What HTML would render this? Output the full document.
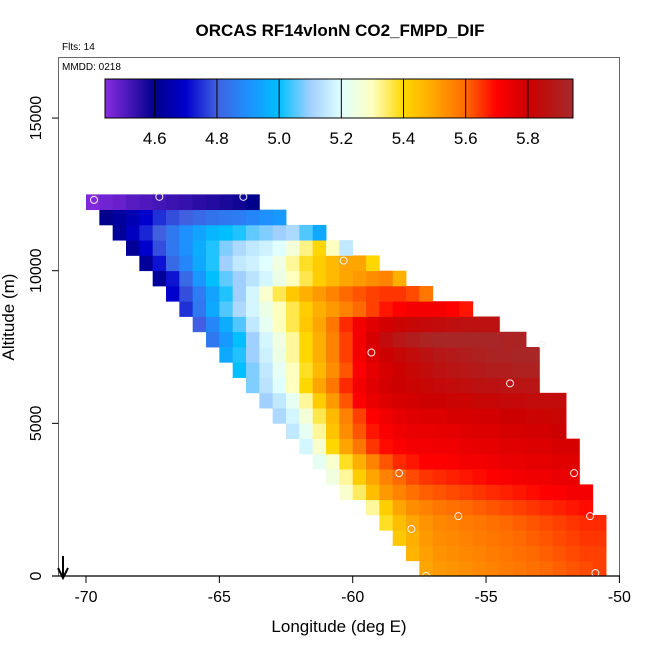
<!DOCTYPE html>
<html><head><meta charset="utf-8"><style>
html,body{margin:0;padding:0;background:#fff;}
svg{display:block;font-family:"Liberation Sans",Arial,sans-serif;}
</style></head><body>
<svg id="chart" width="650" height="650" viewBox="0 0 650 650">
<defs>
<linearGradient id="cbgrad" x1="0" x2="1" y1="0" y2="0"></linearGradient>
</defs>
<text x="340" y="36" text-anchor="middle" font-size="17" font-weight="bold">ORCAS RF14vlonN CO2_FMPD_DIF</text>
<text x="62" y="50" font-size="10">Flts: 14</text>
<g id="cells"></g>
<g id="pts"></g>
<rect x="58.5" y="57.5" width="561" height="518.5" fill="none" stroke="#666" stroke-width="1"/>
<text x="62" y="70" font-size="10">MMDD: 0218</text>
<g id="cbar"></g>
<g id="xaxis"></g>
<g id="yaxis"></g>
<text x="339" y="632" text-anchor="middle" font-size="17">Longitude (deg E)</text>
<text transform="translate(14,317) rotate(-90)" text-anchor="middle" font-size="17">Altitude (m)</text>
<g>
<line x1="63" y1="556" x2="63" y2="576" stroke="#000" stroke-width="2"/>
<path d="M58,568 L63,578 L68,568" fill="none" stroke="#000" stroke-width="2"/>
</g>
</svg>
<script>
// ---- data ----
const rowAltBase = [0,500,1000,1500,2000,2500,3000,3500,4000,4500,5000,5500,6000,6500,7000,7500,8000,8500,9000,9500,10000,10500,11000,11500,12000];
const rowLonStart = [-57.5,-58,-58.5,-59,-59.5,-60.5,-61,-61.5,-62,-62.5,-63,-63.5,-64,-64.5,-65,-65.5,-66,-66.5,-67,-67.5,-68,-68.5,-69,-69.5,-70];
const rowValues = [
[5.5,5.52,5.53,5.54,5.55,5.56,5.57,5.58,5.59,5.6,5.61,5.62,5.63,5.64],
[5.47,5.51,5.53,5.54,5.55,5.56,5.57,5.58,5.59,5.6,5.61,5.62,5.63,5.64,5.64],
[5.43,5.48,5.52,5.54,5.55,5.56,5.57,5.58,5.59,5.6,5.61,5.62,5.63,5.64,5.65,5.65],
[5.38,5.45,5.5,5.53,5.55,5.56,5.57,5.58,5.59,5.6,5.61,5.62,5.63,5.64,5.65,5.66,5.66],
[5.32,5.42,5.5,5.54,5.56,5.58,5.59,5.6,5.61,5.62,5.63,5.64,5.65,5.66,5.67,5.68,5.69],
[5.28,5.35,5.45,5.52,5.56,5.59,5.61,5.62,5.63,5.64,5.65,5.66,5.67,5.68,5.69,5.7,5.71,5.72,5.72],
[5.25,5.32,5.42,5.5,5.56,5.6,5.63,5.65,5.66,5.67,5.68,5.69,5.7,5.71,5.72,5.73,5.73,5.74,5.74],
[5.22,5.28,5.38,5.48,5.56,5.62,5.66,5.68,5.7,5.7,5.71,5.72,5.72,5.73,5.74,5.74,5.75,5.75,5.76,5.76],
[5.18,5.28,5.4,5.5,5.58,5.65,5.69,5.71,5.72,5.72,5.73,5.73,5.74,5.75,5.75,5.76,5.76,5.77,5.77,5.78,5.78],
[5.15,5.22,5.32,5.44,5.54,5.62,5.68,5.71,5.73,5.74,5.74,5.75,5.75,5.76,5.77,5.77,5.78,5.78,5.79,5.79,5.8],
[5.12,5.18,5.26,5.36,5.46,5.56,5.64,5.7,5.73,5.75,5.76,5.77,5.77,5.78,5.78,5.79,5.79,5.8,5.8,5.81,5.81,5.82],
[5.1,5.15,5.22,5.32,5.42,5.52,5.62,5.7,5.74,5.77,5.78,5.79,5.8,5.8,5.81,5.81,5.82,5.82,5.83,5.83,5.84,5.84,5.84],
[5.08,5.14,5.2,5.3,5.4,5.5,5.58,5.66,5.72,5.76,5.79,5.8,5.81,5.82,5.83,5.84,5.85,5.86,5.86,5.87,5.87,5.87],
[5.0,5.08,5.15,5.22,5.3,5.38,5.46,5.54,5.62,5.7,5.75,5.78,5.8,5.82,5.84,5.86,5.87,5.88,5.89,5.9,5.9,5.91,5.91],
[4.95,5.02,5.1,5.17,5.24,5.32,5.4,5.48,5.56,5.64,5.72,5.77,5.8,5.82,5.84,5.86,5.88,5.89,5.9,5.91,5.92,5.92,5.93,5.93],
[4.85,4.92,5.0,5.1,5.18,5.25,5.32,5.4,5.48,5.56,5.64,5.72,5.78,5.84,5.88,5.9,5.92,5.93,5.93,5.93,5.93,5.93,5.92,5.92],
[4.8,4.88,4.96,5.05,5.15,5.22,5.3,5.36,5.43,5.5,5.58,5.66,5.72,5.76,5.79,5.81,5.82,5.83,5.84,5.85,5.86,5.86,5.86],
[4.75,4.85,4.95,5.05,5.12,5.18,5.24,5.3,5.36,5.42,5.48,5.52,5.56,5.6,5.64,5.68,5.7,5.72,5.72,5.72,5.7,5.68],
[4.7,4.78,4.86,4.94,5.02,5.1,5.18,5.28,5.36,5.43,5.48,5.52,5.56,5.6,5.62,5.64,5.65,5.65,5.63,5.58],
[4.62,4.72,4.82,4.92,5.0,5.06,5.1,5.14,5.18,5.24,5.3,5.36,5.42,5.46,5.5,5.52,5.54,5.56,5.48],
[4.62,4.72,4.82,4.88,4.95,5.02,5.1,5.15,5.17,5.2,5.25,5.32,5.38,5.42,5.46,5.5,5.5,5.4],
[4.62,4.7,4.78,4.85,4.9,4.96,5.02,5.08,5.12,5.15,5.17,5.2,5.26,5.33,5.4,5.3,5.15],
[4.62,4.68,4.74,4.8,4.85,4.9,4.94,4.98,5.0,5.02,5.06,5.08,5.1,5.12,5.05,4.95],
[4.6,4.63,4.66,4.7,4.75,4.78,4.8,4.82,4.84,4.85,4.86,4.88,4.9,4.92],
[4.45,4.47,4.48,4.5,4.51,4.52,4.53,4.54,4.55,4.56,4.57,4.58,4.6]
];
const pointLon = [-69.7,-67.25,-64.1,-60.34,-59.3,-54.1,-52.9,-58.26,-51.7,-57.8,-56.04,-51.1,-57.25,-50.9];
const pointAlt = [12320,12420,12420,10330,7320,6310,7580,3370,3370,1540,1960,1960,0,100];
const xTicks = [-70,-65,-60,-55,-50];
const xTickLabels = ["-70","-65","-60","-55","-50"];
const yTicks = [0,5000,10000,15000];
const yTickLabels = ["0","5000","10000","15000"];
const cbTicks = [4.6,4.8,5.0,5.2,5.4,5.6,5.8];
const cbTickLabels = ["4.6","4.8","5.0","5.2","5.4","5.6","5.8"];
const cbMin = 4.44, cbMax = 5.945;
const cbStopVals = [4.44,4.6,4.7,4.8,4.9,5.0,5.1,5.2,5.3,5.4,5.5,5.6,5.7,5.8,5.945];
const cbStopCols = ["#8a2be2","#00008b","#0000cd","#4060e0","#1e90ff","#00bfff","#a0d0ff","#e0ffff","#ffffc0","#ffd700","#ffa500","#ff6a00","#ff0000","#cd0000","#a52a2a"];
const cellLon = 0.5, cellAlt = 500;

// ---- scales ----
const NS = "http://www.w3.org/2000/svg";
function xs(lon){ return 86 + (lon + 70) * 26.67; }
function ys(alt){ return 576 - alt * 0.03053; }
function cbx(v){ return 105 + (v - cbMin) / (cbMax - cbMin) * 468; }
function hex(c){ return [parseInt(c.substr(1,2),16),parseInt(c.substr(3,2),16),parseInt(c.substr(5,2),16)]; }
function color(v){
  if (v <= cbStopVals[0]) return cbStopCols[0];
  for (let i=1;i<cbStopVals.length;i++){
    if (v <= cbStopVals[i]){
      const t=(v-cbStopVals[i-1])/(cbStopVals[i]-cbStopVals[i-1]);
      const a=hex(cbStopCols[i-1]), b=hex(cbStopCols[i]);
      return "rgb("+a.map((x,k)=>Math.round(x+(b[k]-x)*t)).join(",")+")";
    }
  }
  return cbStopCols[cbStopCols.length-1];
}
function mk(tag, attrs, parent){ const e=document.createElementNS(NS,tag); for(const k in attrs) e.setAttribute(k,attrs[k]); parent.appendChild(e); return e; }

// ---- heatmap ----
const cells = document.getElementById("cells");
rowValues.forEach((vals, r) => {
  vals.forEach((v, c) => {
    const lon0 = rowLonStart[r] + c*cellLon;
    const x0 = xs(lon0), x1 = xs(lon0+cellLon);
    const y0 = ys(rowAltBase[r]+cellAlt), y1 = ys(rowAltBase[r]);
    const el = mk("rect",{x:x0.toFixed(2),y:y0.toFixed(2),width:(x1-x0+0.4).toFixed(2),height:(y1-y0+0.4).toFixed(2),fill:color(v)},cells);
    
    
  });
});

// ---- points ----
const pts = document.getElementById("pts");
pointLon.forEach((lon,i) => {
  const el = mk("circle",{cx:xs(lon),cy:ys(pointAlt[i]),r:3.5,fill:"none",stroke:"#f2f2f2","stroke-width":1},pts);
  
  
});

// ---- colorbar ----
const grad = document.getElementById("cbgrad");
cbStopVals.forEach((v,i) => { mk("stop",{offset:((v-cbMin)/(cbMax-cbMin)).toFixed(4),"stop-color":cbStopCols[i]},grad); });
const cbar = document.getElementById("cbar");
const cbRect = mk("rect",{x:105,y:79,width:468,height:39,fill:"url(#cbgrad)",stroke:"#000","stroke-width":1},cbar);


cbTicks.forEach((v,i) => {
  const l = mk("line",{x1:cbx(v),x2:cbx(v),y1:79,y2:118,stroke:"#000","stroke-width":1},cbar);
  
  
  const t = mk("text",{x:cbx(v),y:144,"text-anchor":"middle","font-size":"17"},cbar);
  t.textContent = cbTickLabels[i];
  
  
});

// ---- axes ----
const xa = document.getElementById("xaxis");
mk("line",{x1:52,x2:620,y1:576,y2:576,stroke:"#000","stroke-width":1.2},xa);
xTicks.forEach((v,i) => {
  mk("line",{x1:xs(v),x2:xs(v),y1:576,y2:583,stroke:"#000","stroke-width":1},xa);
  const t = mk("text",{x:xs(v),y:602,"text-anchor":"middle","font-size":"16"},xa);
  t.textContent = xTickLabels[i];
  
  
});
const ya = document.getElementById("yaxis");
yTicks.forEach((v,i) => {
  mk("line",{x1:52,x2:58.5,y1:ys(v),y2:ys(v),stroke:"#000","stroke-width":1},ya);
  const t = mk("text",{transform:"translate(41,"+ys(v)+") rotate(-90)","text-anchor":"middle","font-size":"16"},ya);
  t.textContent = yTickLabels[i];
  
  
});
</script>
</body></html>
